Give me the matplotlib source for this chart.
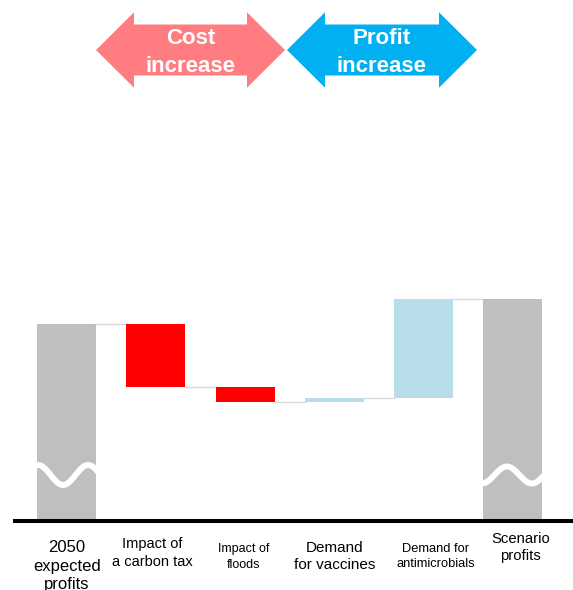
import numpy as np
from matplotlib import pyplot as plt
from matplotlib.patches import Polygon

plt.rcParams['font.family'] = ['Liberation Sans', 'DejaVu Sans']

# waterfall data (arbitrary profit units)
categories = ["2050\nexpected\nprofits", "Impact of\na carbon tax", "Impact of\nfloods",
              "Demand\nfor vaccines", "Demand for\nantimicrobials", "Scenario\nprofits"]
start_value = 195
changes = [-63, -15, 4.5, 99]
end_value = 220.5

bar_colors = ["#BFBFBF", "#FF0000", "#FF0000", "#B7DEE8", "#B7DEE8", "#BFBFBF"]
label_sizes = [12, 10.5, 9, 11, 9.3, 10.7]
label_dx = [0.0, -0.04, -0.02, 0.0, 0.14, 0.09]   # small nudges, in bar units
label_base = [-70.5, -46.7, -48.7, -50.3, -47.7, -41]  # last-line baseline
label_ls = [1.3, 1.3, 1.4, 1.3, 1.3, 1.3]

W, H = 573, 590
fig = plt.figure(figsize=(W / 100, H / 100), dpi=100)
ax = fig.add_axes([0, 0, 1, 1])
ax.set_xlim(-0.748, 5.676)
ax.set_ylim(-71, 519)
ax.axis("off")

# build bottoms / heights for the waterfall
bottoms, heights = [0], [start_value]
level = start_value
for c in changes:
    bottoms.append(min(level, level + c))
    heights.append(abs(c))
    level += c
bottoms.append(0)
heights.append(end_value)

x = np.arange(len(categories))
width = 0.66
bars = ax.bar(x, heights, width, bottom=bottoms, color=bar_colors, zorder=2)

# connector lines between bars
levels = [start_value]
lv = start_value
for c in changes:
    lv += c
    levels.append(lv)
for i, lv in enumerate(levels):
    ax.plot([x[i] + width / 2, x[i + 1] - width / 2], [lv, lv],
            color="#D9D9D9", lw=1, zorder=1)

# white "break" waves on the two total bars
lam = 0.56
for i, xt, amp in [(0, -0.041, 10), (5, 0.215, 8.5)]:
    xs = np.linspace(x[i] - width / 2 - 0.05, x[i] + width / 2 + 0.05, 200)
    ys = 44 - amp * np.cos(2 * np.pi * (xs - x[i] - xt) / lam)
    ln, = ax.plot(xs, ys, color="white", lw=4.3, zorder=3, solid_capstyle="round")
    ln.set_clip_path(bars[i])

# axis line
ax.plot([-0.6, 5.676], [-2, -2], color="black", lw=2.9, zorder=4,
        solid_capstyle="butt")

for i, lab in enumerate(categories):
    ax.text(x[i] + label_dx[i], label_base[i], lab, ha="center", va="baseline",
            fontsize=label_sizes[i], linespacing=label_ls[i], color="black")


# double-headed arrows on top
def px(xp, yp):
    return (xp / W, 1 - yp / H)


def double_arrow(x0, x1, head, color):
    yc, hh, bh = 50, 37.7, 25.5
    pts = [(x0, yc), (x0 + head, yc - hh), (x0 + head, yc - bh), (x1 - head, yc - bh),
           (x1 - head, yc - hh), (x1, yc), (x1 - head, yc + hh), (x1 - head, yc + bh),
           (x0 + head, yc + bh), (x0 + head, yc + hh)]
    fig.patches.append(Polygon([px(a, b) for a, b in pts], closed=True,
                               transform=fig.transFigure, facecolor=color,
                               edgecolor="none"))


double_arrow(96, 285, 38, "#FF7C80")
double_arrow(287, 477, 38, "#00B0F0")

for xc, word in [(190.8, "Cost"), (381.5, "Profit")]:
    fig.text(*px(xc, 44.5), word, ha="center", va="baseline", color="white",
             fontsize=16, fontweight="bold")
    fig.text(*px(xc, 72), "increase", ha="center", va="baseline", color="white",
             fontsize=16, fontweight="bold")

fig.savefig("out.png", dpi=100)
